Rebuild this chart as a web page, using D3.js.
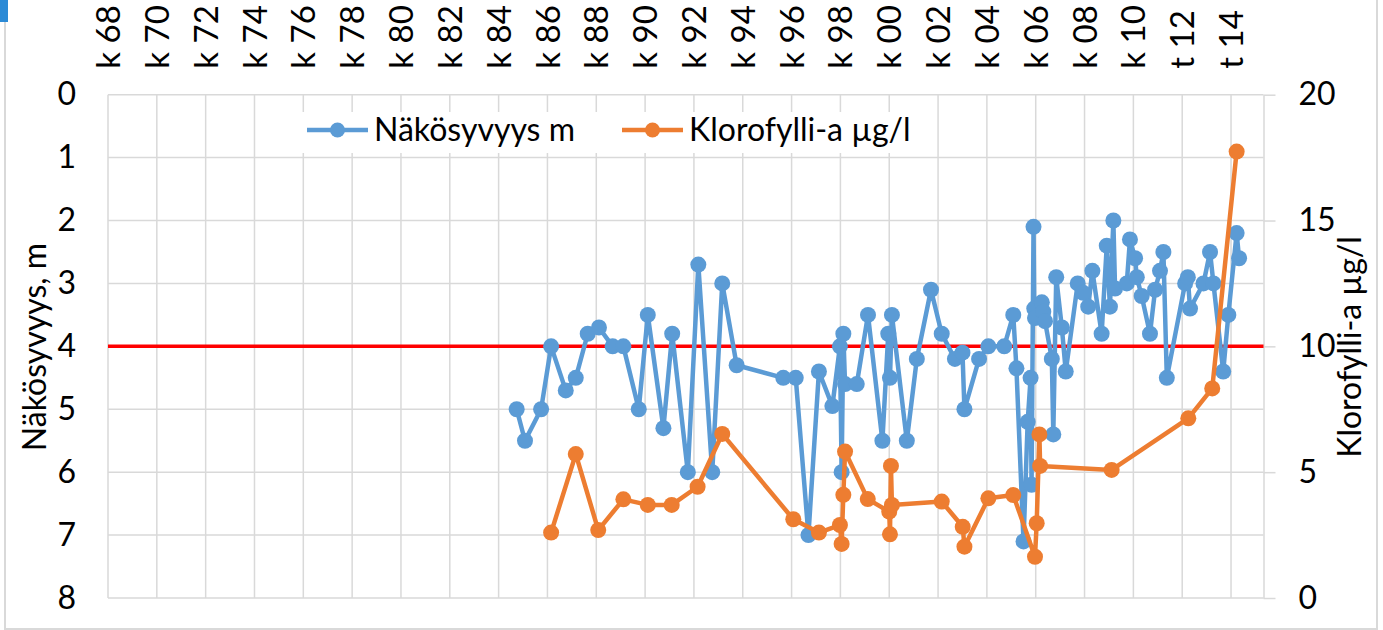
<!DOCTYPE html>
<html>
<head>
<meta charset="utf-8">
<script src="https://cdn.jsdelivr.net/npm/d3@7/dist/d3.min.js"></script>
<style>
body { margin: 0; background: #fff; }
text { font-family: Lato, "Noto Sans", sans-serif; fill: #000; }
</style>
</head>
<body>
<div id="chart-area"></div>
<script>
// top axis ticks (every 2nd year) and their labels
var tickYears = [1968, 1970, 1972, 1974, 1976, 1978, 1980, 1982, 1984, 1986, 1988, 1990,
    1992, 1994, 1996, 1998, 2000, 2002, 2004, 2006, 2008, 2010, 2012, 2014];
var tickLabels = ["k 68", "k 70", "k 72", "k 74", "k 76", "k 78", "k 80", "k 82", "k 84", "k 86",
    "k 88", "k 90", "k 92", "k 94", "k 96", "k 98", "k 00", "k 02", "k 04", "k 06", "k 08",
    "k 10", "t 12", "t 14"];
var leftTicks = [0, 1, 2, 3, 4, 5, 6, 7, 8];
var rightTicks = [0, 5, 10, 15, 20];
var limitDepth = 4;

// Näkösyvyys m (sample date as decimal year, depth in m)
var secchiDate = [1984.74, 1985.08, 1985.74, 1986.15, 1986.75, 1987.16, 1987.65, 1988.11, 1988.67,
    1989.11, 1989.74, 1990.11, 1990.75, 1991.11, 1991.75, 1992.18, 1992.75, 1993.16, 1993.75,
    1995.66, 1996.17, 1996.69, 1997.12, 1997.67, 1997.98, 1998.05, 1998.12, 1998.19, 1998.67,
    1999.13, 1999.72, 1999.96, 2000.03, 2000.11, 2000.72, 2001.13, 2001.71, 2002.15, 2002.69,
    2003.00, 2003.08, 2003.68, 2004.06, 2004.71, 2005.08, 2005.21, 2005.50, 2005.67, 2005.79,
    2005.83, 2005.91, 2005.94, 2005.97, 2006.25, 2006.31, 2006.38, 2006.66, 2006.72, 2006.84,
    2007.07, 2007.23, 2007.72, 2007.94, 2008.15, 2008.32, 2008.70, 2008.91, 2009.04, 2009.18,
    2009.25, 2009.73, 2009.86, 2010.07, 2010.14, 2010.34, 2010.68, 2010.89, 2011.09, 2011.23,
    2011.37, 2012.12, 2012.23, 2012.32, 2012.87, 2013.14, 2013.28, 2013.68, 2013.89, 2014.23,
    2014.33];
var secchiDepth = [5.0, 5.5, 5.0, 4.0, 4.7, 4.5, 3.8, 3.7, 4.0,
    4.0, 5.0, 3.5, 5.3, 3.8, 6.0, 2.7, 6.0, 3.0, 4.3,
    4.5, 4.5, 7.0, 4.4, 4.95, 4.0, 6.0, 3.8, 4.6, 4.6,
    3.5, 5.5, 3.8, 4.5, 3.5, 5.5, 4.2, 3.1, 3.8, 4.2,
    4.1, 5.0, 4.2, 4.0, 4.0, 3.5, 4.35, 7.1, 5.2, 4.5,
    6.2, 2.1, 3.4, 3.55, 3.3, 3.45, 3.6, 4.2, 5.4, 2.9,
    3.7, 4.4, 3.0, 3.15, 3.37, 2.8, 3.8, 2.4, 3.37, 2.0,
    3.08, 3.0, 2.3, 2.6, 2.9, 3.2, 3.8, 3.1, 2.8, 2.5,
    4.5, 3.0, 2.9, 3.4, 3.0, 2.5, 3.0, 4.4, 3.5, 2.2,
    2.6];

// Klorofylli-a µg/l
var chlDate = [1986.15, 1987.16, 1988.08, 1989.11, 1990.11, 1991.09, 1992.15, 1993.16, 1996.07,
    1997.12, 1997.98, 1998.05, 1998.12, 1998.19, 1999.12, 2000.00, 2000.03, 2000.07, 2000.11,
    2002.15, 2003.01, 2003.08, 2004.06, 2005.08, 2005.97, 2006.04, 2006.15, 2006.18, 2009.11,
    2012.25, 2013.23, 2014.23];
var chlValue = [2.6, 5.72, 2.7, 3.92, 3.7, 3.7, 4.42, 6.52, 3.13,
    2.6, 2.9, 2.15, 4.1, 5.82, 3.93, 3.43, 2.53, 5.25, 3.7,
    3.83, 2.83, 2.04, 3.96, 4.09, 1.64, 2.97, 6.5, 5.25, 5.09,
    7.14, 8.33, 17.74];

var blue = "#5b9bd5", orange = "#ed7d31", grid = "#d9d9d9";
var fontSize = 32;

var svg = d3.select("#chart-area")
    .append("svg")
    .attr("width", 1383)
    .attr("height", 630);

// outer chart border + selection mark in the corner
svg.append("rect")
    .attr("x", 5).attr("y", -2)
    .attr("width", 1372).attr("height", 631)
    .attr("fill", "none")
    .attr("stroke", grid)
    .attr("stroke-width", 2);
svg.append("rect")
    .attr("x", 0).attr("y", 0)
    .attr("width", 8).attr("height", 22)
    .attr("fill", "#2b8ad6");

// Scales
var x = d3.scaleLinear()
    .domain([1968, 2015.33])
    .range([108, 1263.5]);
var yL = d3.scaleLinear()
    .domain([0, 8])
    .range([94.7, 598]);
var yR = d3.scaleLinear()
    .domain([0, 20])
    .range([598, 94.7]);

// gridlines
svg.append("g").selectAll("line")
    .data(tickYears)
    .enter().append("line")
    .attr("x1", function(d) { return x(d); })
    .attr("x2", function(d) { return x(d); })
    .attr("y1", yL(0))
    .attr("y2", yL(8))
    .attr("stroke", grid)
    .attr("stroke-width", 1.5);
svg.append("g").selectAll("line")
    .data(leftTicks)
    .enter().append("line")
    .attr("x1", x(1968))
    .attr("x2", x.range()[1])
    .attr("y1", function(d) { return yL(d); })
    .attr("y2", function(d) { return yL(d); })
    .attr("stroke", grid)
    .attr("stroke-width", 1.5);

// top axis (dates)
var topAxis = svg.append("g")
    .attr("transform", "translate(0," + yL(0) + ")")
    .call(d3.axisTop(x)
        .tickValues(tickYears)
        .tickFormat(function(d, i) { return tickLabels[i]; })
        .tickSize(0));
topAxis.select(".domain").remove();
topAxis.selectAll("text")
    .attr("transform", "rotate(-90)")
    .attr("x", 26)
    .attr("y", 0)
    .attr("dy", "0.35em")
    .attr("text-anchor", "start")
    .style("font-size", (fontSize + 1) + "px");

// left axis (depth, reversed)
var leftAxis = svg.append("g")
    .attr("transform", "translate(" + x(1968) + ",0)")
    .call(d3.axisLeft(yL).tickValues(leftTicks).tickSize(0).tickPadding(32));
leftAxis.select(".domain").remove();
leftAxis.selectAll("text")
    .style("font-size", fontSize + "px");

// right axis (chlorophyll)
var rightAxis = svg.append("g")
    .attr("transform", "translate(" + x.range()[1] + ",0)")
    .call(d3.axisRight(yR).tickValues(rightTicks).tickSize(12).tickSizeOuter(0).tickPadding(23));
rightAxis.select(".domain").attr("stroke", grid).attr("stroke-width", 1.5);
rightAxis.selectAll("line").attr("stroke", grid).attr("stroke-width", 1.5);
rightAxis.selectAll("text")
    .style("font-size", fontSize + "px");

// 4 m limit line
svg.append("line")
    .attr("x1", x(1968))
    .attr("x2", x.range()[1])
    .attr("y1", yL(limitDepth))
    .attr("y2", yL(limitDepth))
    .attr("stroke", "#ff0000")
    .attr("stroke-width", 3.5);

// series
var secchi = secchiDate.map(function(d, i) { return { date: d, v: secchiDepth[i] }; });
var chl = chlDate.map(function(d, i) { return { date: d, v: chlValue[i] }; });

function drawSeries(data, yScale, color) {
    var line = d3.line()
        .x(function(d) { return x(d.date); })
        .y(function(d) { return yScale(d.v); });
    svg.append("path")
        .datum(data)
        .attr("d", line)
        .attr("fill", "none")
        .attr("stroke", color)
        .attr("stroke-width", 4.5)
        .attr("stroke-linejoin", "round");
    svg.append("g").selectAll("circle")
        .data(data)
        .enter().append("circle")
        .attr("cx", function(d) { return x(d.date); })
        .attr("cy", function(d) { return yScale(d.v); })
        .attr("r", 8)
        .attr("fill", color);
}
drawSeries(secchi, yL, blue);
drawSeries(chl, yR, orange);

// legend
svg.append("rect")
    .attr("x", 295).attr("y", 112)
    .attr("width", 625).attr("height", 41)
    .attr("fill", "#fff");
var legendItems = [
    { name: "Näkösyvyys m", color: blue, x: 307 },
    { name: "Klorofylli-a µg/l", color: orange, x: 622 }
];
var legend = svg.selectAll(".legend")
    .data(legendItems)
    .enter().append("g")
    .attr("class", "legend")
    .attr("transform", function(d) { return "translate(" + d.x + ",130)"; });
legend.append("line")
    .attr("x1", 0).attr("x2", 61)
    .attr("stroke", function(d) { return d.color; })
    .attr("stroke-width", 4.5);
legend.append("circle")
    .attr("cx", 30.5)
    .attr("r", 7.5)
    .attr("fill", function(d) { return d.color; });
legend.append("text")
    .attr("x", 67)
    .attr("dy", "0.35em")
    .style("font-size", fontSize + "px")
    .text(function(d) { return d.name; });

// axis titles
svg.append("text")
    .attr("transform", "translate(35,347) rotate(-90)")
    .attr("text-anchor", "middle")
    .attr("dy", "0.35em")
    .style("font-size", fontSize + "px")
    .text("Näkösyvyys, m");
svg.append("text")
    .attr("transform", "translate(1350,347) rotate(-90)")
    .attr("text-anchor", "middle")
    .attr("dy", "0.35em")
    .style("font-size", fontSize + "px")
    .text("Klorofylli-a µg/l");
</script>
</body>
</html>
